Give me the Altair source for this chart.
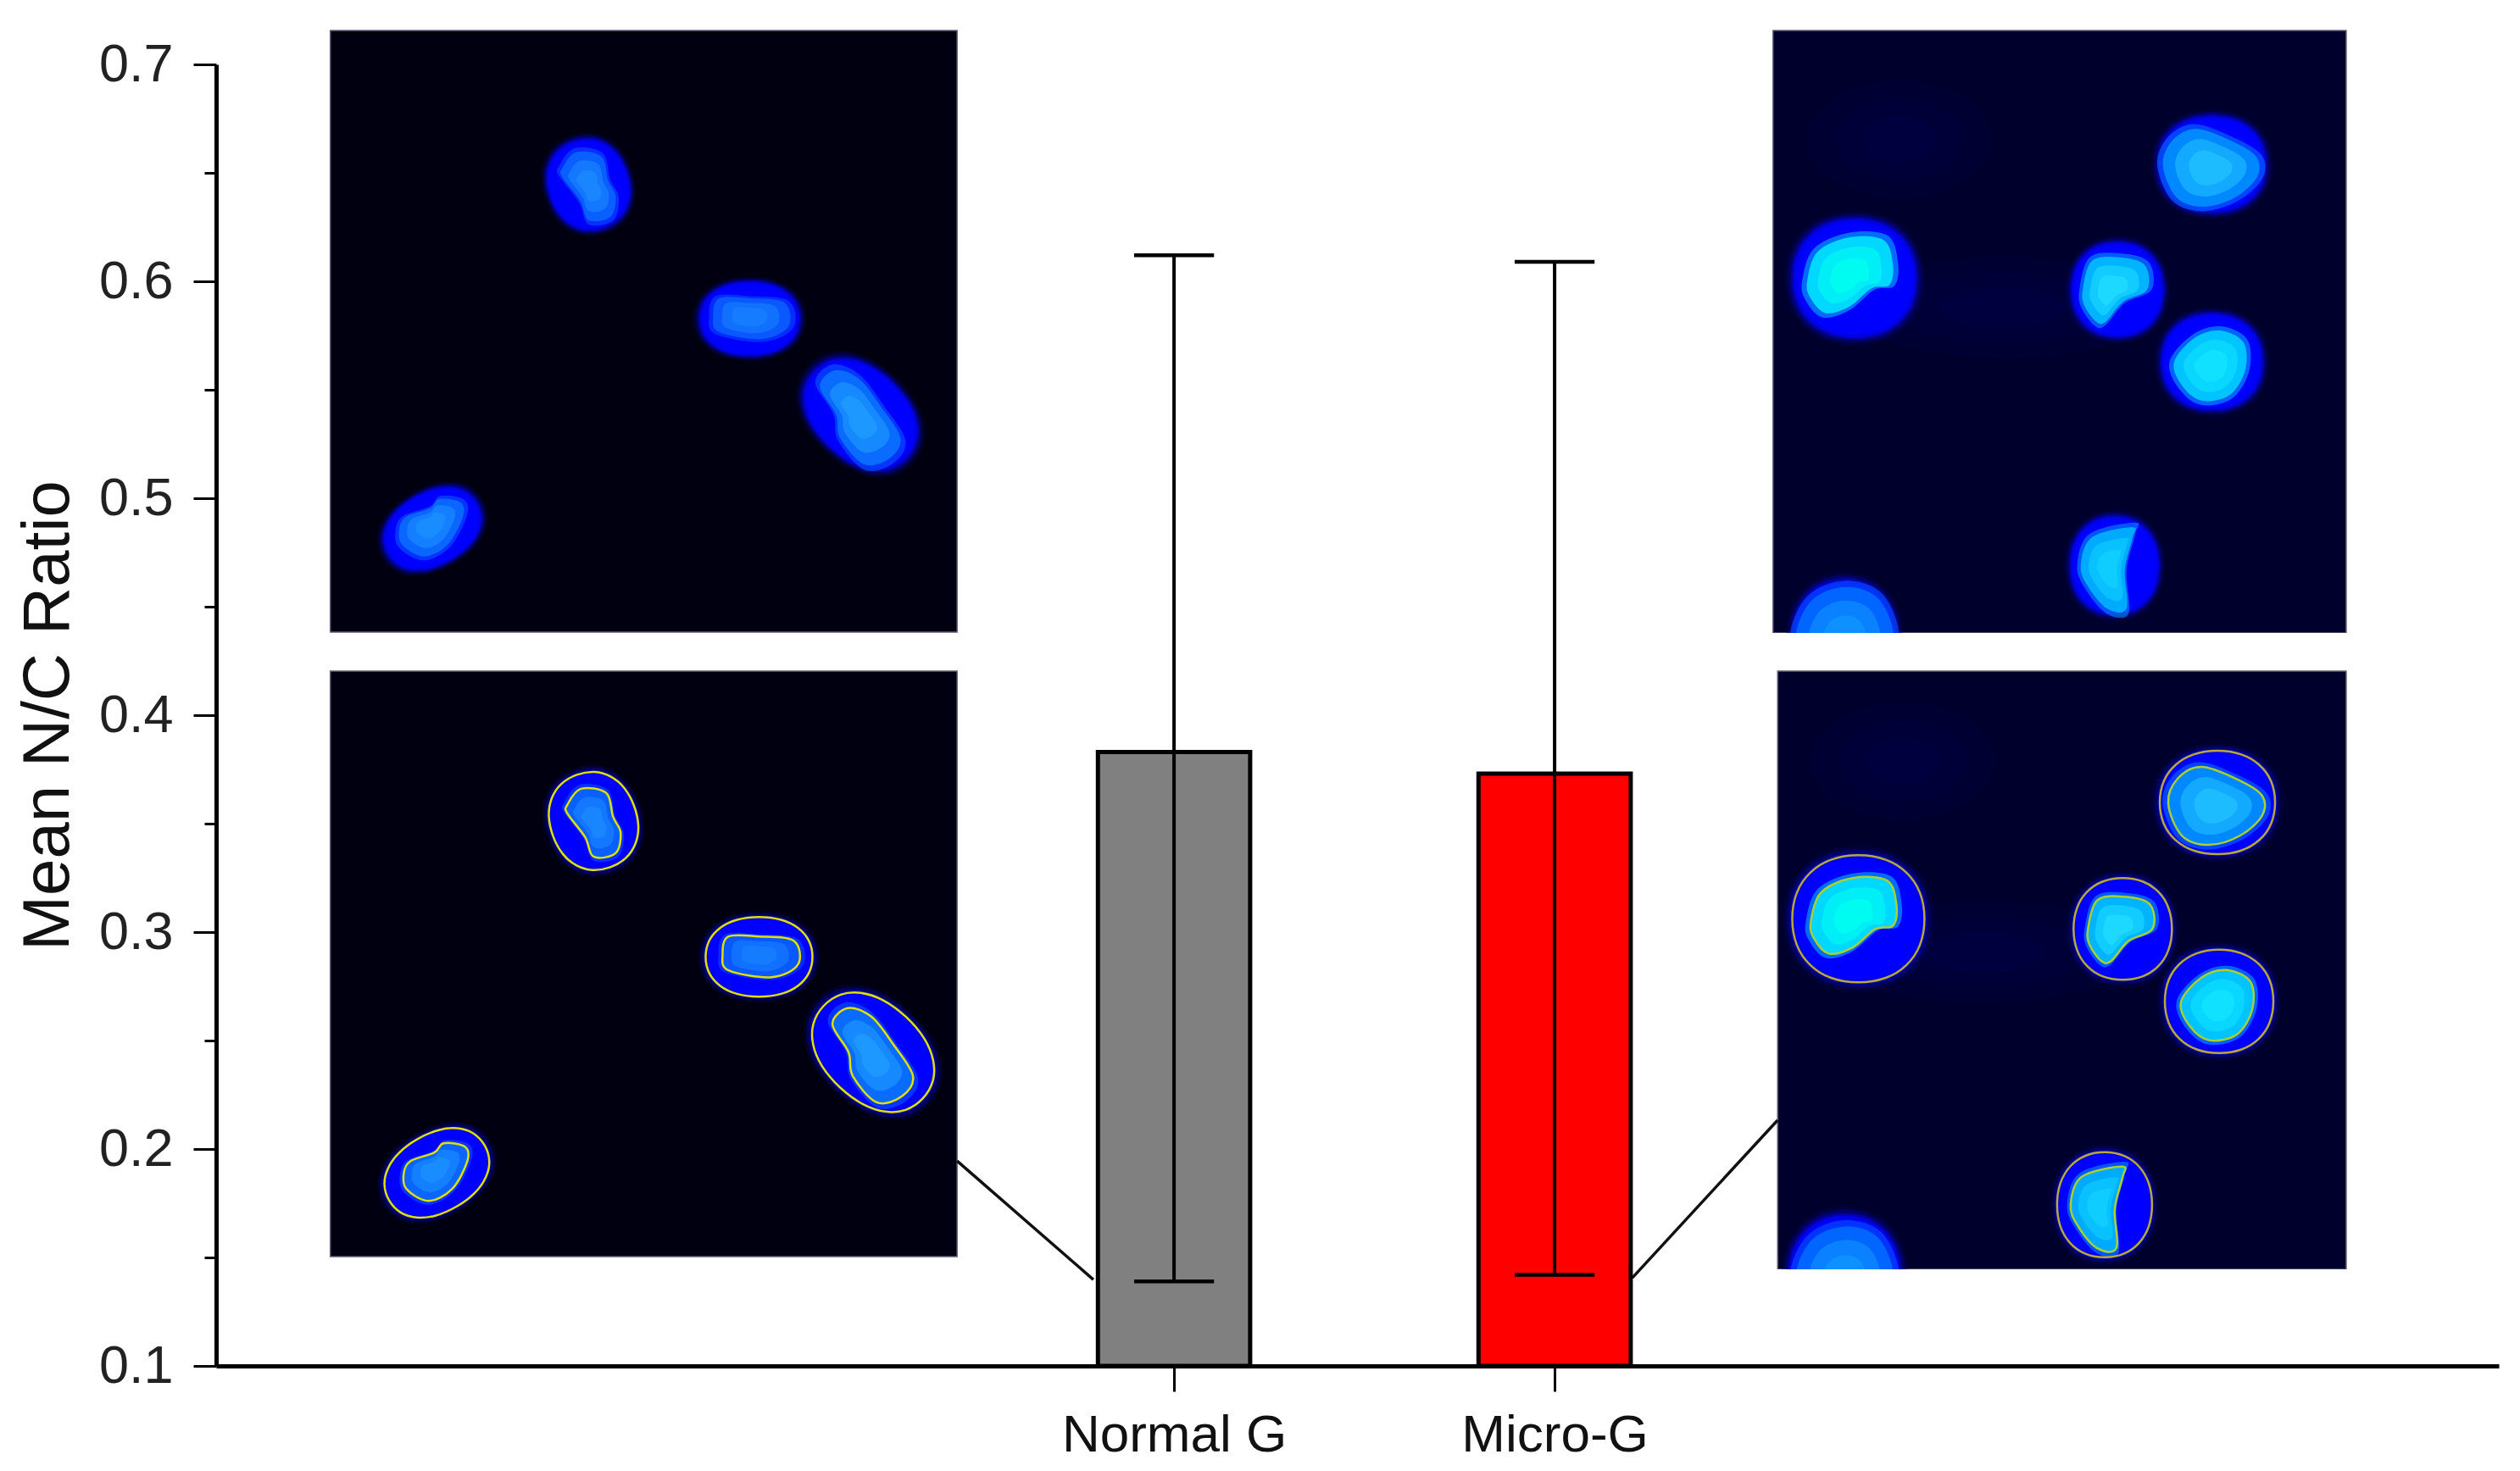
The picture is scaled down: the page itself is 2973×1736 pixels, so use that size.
import pandas as pd
import altair as alt
import math

# bars and error bars
CATEGORIES = ["Normal G", "Micro-G"]
POSITIONS = [1, 2]
MEANS = [0.383, 0.373]
ERR_HIGH = [0.612, 0.609]
ERR_LOW = [0.139, 0.142]
BAR_COLORS = ["#808080", "#ff0000"]
Y_TICKS = [0.1, 0.2, 0.3, 0.4, 0.5, 0.6, 0.7]
Y_MINOR = [0.15, 0.25, 0.35, 0.45, 0.55, 0.65]

# micrograph panels, in axis units
PANEL_NAMES = ["TL", "BL", "TR", "BR"]
PANEL_X0 = [-1.217, -1.217, 2.574, 2.586]
PANEL_X1 = [0.430, 0.430, 4.080, 4.080]
PANEL_Y0 = [0.4383, 0.1504, 0.4379, 0.1445]
PANEL_Y1 = [0.7156, 0.4203, 0.7156, 0.4203]
PANEL_FILL = ["#000010", "#000010", "#00002c", "#00002c"]

# cell centres as fractions of their panel (from top-left)
LEFT_CELLS = ["A", "B", "C", "D"]
TL_U = [0.412, 0.669, 0.846, 0.163]
TL_V = [0.256, 0.479, 0.638, 0.828]
BL_U = [0.420, 0.684, 0.866, 0.170]
BL_V = [0.256, 0.488, 0.651, 0.857]
RIGHT_CELLS = ["E", "F", "G", "H", "I", "J"]
TR_U = [0.1425, 0.601, 0.766, 0.766, 0.596, 0.125]
TR_V = [0.411, 0.430, 0.222, 0.550, 0.888, 1.011]
BR_U = [0.142, 0.607, 0.7735, 0.7765, 0.575, 0.118]
BR_V = [0.414, 0.431, 0.2195, 0.552, 0.892, 1.016]

# cell halo: half length, half width, tilt
OUTER = {
    "A": (58, 51, 70), "B": (63, 47, 0), "C": (80, 57, 43), "D": (65, 46, -30),
    "E": (78, 75, 0), "F": (58, 60, 0), "G": (68, 61, 0), "H": (64, 61, 0),
    "I": (56, 62, 0), "J": (66, 75, 0),
}
# nucleus outlines
NUCLEI = {
    "A": [(-31, -19), (-15, -38), (15, -33), (23, -5), (32, 14), (26, 38), (0, 42), (-10, 19), (-31, -9)],
    "B": [(-43, -3), (-36, -24), (0, -24), (41, -19), (46, 9), (15, 24), (-36, 16)],
    "C": [(-48, -33), (-30, -52), (-2, -42), (24, -9), (47, 28), (34, 52), (4, 59), (-24, 28), (-29, 0)],
    "D": [(-39, 0), (-31, -14), (-3, -24), (8, -35), (33, -31), (36, -14), (18, 19), (-10, 33), (-36, 19)],
    "E": [(-56, 3), (-44, -31), (-7, -48), (34, -45), (45, -16), (41, 8), (20, 12), (-7, 34), (-35, 41), (-53, 22)],
    "F": [(-41, 0), (-30, -34), (2, -38), (32, -29), (35, 0), (7, 14), (-14, 38), (-25, 38), (-39, 19)],
    "G": [(-58, 1), (-47, -28), (-19, -42), (22, -28), (52, -9), (53, 15), (27, 39), (-10, 50), (-42, 39)],
    "H": [(-45, 1), (-21, -28), (9, -37), (37, -23), (39, 10), (21, 39), (-11, 46), (-34, 30)],
    "I": [(-40, 0), (-27, -33), (21, -45), (21, -32), (12, 5), (14, 51), (-9, 51), (-32, 24)],
    "J": [(-58, 0), (-40, -45), (0, -62), (40, -48), (58, 0), (40, 45), (0, 60), (-40, 45)],
}
NUC_MID = {"A": "#0a60ff", "B": "#0a58ff", "C": "#0a6cff", "D": "#0a66ff", "E": "#00d8ff",
           "F": "#00b4ff", "G": "#0088ff", "H": "#00c4ff", "I": "#00aaff", "J": "#0066ff"}
NUC_CORE = {"A": "#1a88ff", "B": "#1880ff", "C": "#1e9cff", "D": "#1a90ff", "E": "#00fff0",
            "F": "#20dcff", "G": "#20c0ff", "H": "#10e4ff", "I": "#10d0ff", "J": "#1094ff"}

# faint haze behind the right hand cells: panel, u, v, half width, half height
HAZE_PANEL = ["TR", "TR", "BR", "BR"]
HAZE_U = [0.22, 0.40, 0.22, 0.36]
HAZE_V = [0.18, 0.46, 0.15, 0.47]
HAZE_A = [110, 190, 110, 190]
HAZE_B = [70, 60, 70, 60]

BODY_LEVELS = [(1.14, "#00006e", 0.3), (1.09, "#000096", 0.45), (1.04, "#0000c0", 0.7), (1.0, "#0000e6", 1), (0.95, "#0000ff", 1)]
OUTER_LEFT = "#e0e000"
INNER_LEFT = "#e0e000"
OUTER_RIGHT = "#b8a838"
INNER_RIGHT = "#a8d030"
TOP_SHRINK = 0.93
X_MIN = -1.517
X_MAX = 4.481


def smooth_path(pts, grow=1.0):
    cx = sum(p[0] for p in pts) / len(pts)
    cy = sum(p[1] for p in pts) / len(pts)
    pts = [(cx + (p[0] - cx) * grow, cy + (p[1] - cy) * grow) for p in pts]
    n = len(pts)
    path = f"M{pts[0][0]:.1f},{pts[0][1]:.1f}"
    for i in range(n):
        p0, p1, p2, p3 = pts[i - 1], pts[i], pts[(i + 1) % n], pts[(i + 2) % n]
        c1 = (p1[0] + (p2[0] - p0[0]) / 6, p1[1] + (p2[1] - p0[1]) / 6)
        c2 = (p2[0] - (p3[0] - p1[0]) / 6, p2[1] - (p3[1] - p1[1]) / 6)
        path += f"C{c1[0]:.1f},{c1[1]:.1f},{c2[0]:.1f},{c2[1]:.1f},{p2[0]:.1f},{p2[1]:.1f}"
    return path + "Z"


def outer_points(name, grow=1.0):
    a, b, tilt = OUTER[name]
    t = math.radians(tilt)
    pts = []
    for k in range(16):
        w = 2 * math.pi * k / 16
        cw, sw = math.cos(w), math.sin(w)
        # only a little squarer than an ellipse
        px = a * grow * abs(cw) ** 0.92 * (1 if cw >= 0 else -1)
        py = b * grow * abs(sw) ** 0.92 * (1 if sw >= 0 else -1)
        pts.append((px * math.cos(t) - py * math.sin(t), px * math.sin(t) + py * math.cos(t)))
    return pts


def panel_xy(panel, u, v):
    i = PANEL_NAMES.index(panel)
    x = PANEL_X0[i] + u * (PANEL_X1[i] - PANEL_X0[i])
    y = PANEL_Y1[i] - v * (PANEL_Y1[i] - PANEL_Y0[i])
    return x, y


def cell_rows(panel, names, us, vs, shrink=1.0):
    rows = []
    for name, u, v in zip(names, us, vs):
        x, y = panel_xy(panel, u, v)
        for grow, color, op in BODY_LEVELS:
            rows.append(dict(x=x, y=y, path=smooth_path(outer_points(name, grow * shrink)), color=color, op=op))
        nuc = NUCLEI[name]
        rows.append(dict(x=x, y=y, path=smooth_path(nuc, 1.12), color=NUC_MID[name], op=0.5))
        rows.append(dict(x=x, y=y, path=smooth_path(nuc, 1.0), color=NUC_MID[name], op=1))
        rows.append(dict(x=x, y=y, path=smooth_path(nuc, 0.74), color=NUC_CORE[name], op=0.6))
        rows.append(dict(x=x, y=y, path=smooth_path(nuc, 0.45), color=NUC_CORE[name], op=0.8))
    return rows


def outline_rows(panel, names, us, vs, outer_color, inner_color, skip=()):
    rows = []
    for name, u, v in zip(names, us, vs):
        if name in skip:
            continue
        x, y = panel_xy(panel, u, v)
        rows.append(dict(x=x, y=y, path=smooth_path(outer_points(name)), color=outer_color))
        rows.append(dict(x=x, y=y, path=smooth_path(NUCLEI[name]), color=inner_color))
    return rows


x_scale = alt.Scale(domain=[X_MIN, X_MAX], nice=False, zero=False)
y_scale = alt.Scale(domain=[0.1, 0.7], nice=False, zero=False)
X = alt.X("x:Q", scale=x_scale, axis=None)
Y = alt.Y("y:Q", scale=y_scale, axis=None)


def rects(df, **style):
    return alt.Chart(df).mark_rect(**style).encode(
        x=X, x2="x1:Q", y=Y, y2="y1:Q", color=alt.Color("fill:N", scale=None))


def panel_frame(names):
    idx = [PANEL_NAMES.index(n) for n in names]
    return pd.DataFrame({
        "x": [PANEL_X0[i] for i in idx], "x1": [PANEL_X1[i] for i in idx],
        "y": [PANEL_Y0[i] for i in idx], "y1": [PANEL_Y1[i] for i in idx],
        "fill": [PANEL_FILL[i] for i in idx],
    })


def blobs(rows):
    return alt.Chart(pd.DataFrame(rows)).mark_point(filled=True, size=4, strokeWidth=0).encode(
        x=X, y=Y,
        shape=alt.Shape("path:N", scale=None),
        color=alt.Color("color:N", scale=None),
        opacity=alt.Opacity("op:Q", scale=None),
    )


def rings(rows, width):
    return alt.Chart(pd.DataFrame(rows)).mark_point(filled=False, size=4, strokeWidth=width, opacity=1).encode(
        x=X, y=Y,
        shape=alt.Shape("path:N", scale=None),
        stroke=alt.Stroke("color:N", scale=None),
    )


haze_rows = []
for p, u, v, a, b in zip(HAZE_PANEL, HAZE_U, HAZE_V, HAZE_A, HAZE_B):
    x, y = panel_xy(p, u, v)
    for g in [1.0, 0.7, 0.4]:
        ell = [(a * g * c, b * g * s) for c, s in [(1, 0), (0.7, -0.7), (0, -1), (-0.7, -0.7),
                                                   (-1, 0), (-0.7, 0.7), (0, 1), (0.7, 0.7)]]
        haze_rows.append(dict(x=x, y=y, path=smooth_path(ell), color="#000090", op=0.07, panel=p))
haze = pd.DataFrame(haze_rows)

top_panels = rects(panel_frame(["TL", "TR"]), stroke="#60607a", strokeWidth=1.5)
bottom_panels = rects(panel_frame(["BL", "BR"]), stroke="#60607a", strokeWidth=1.5)
haze_top = blobs(haze[haze.panel == "TR"].to_dict("records"))
haze_bottom = blobs(haze[haze.panel == "BR"].to_dict("records"))

top_cells = blobs(cell_rows("TL", LEFT_CELLS, TL_U, TL_V, TOP_SHRINK) + cell_rows("TR", RIGHT_CELLS, TR_U, TR_V, TOP_SHRINK))
bottom_cells = blobs(cell_rows("BL", LEFT_CELLS, BL_U, BL_V) + cell_rows("BR", RIGHT_CELLS, BR_U, BR_V))

left_rings = rings(outline_rows("BL", LEFT_CELLS, BL_U, BL_V, OUTER_LEFT, INNER_LEFT), 2.5)
right_rings = rings(outline_rows("BR", RIGHT_CELLS, BR_U, BR_V, OUTER_RIGHT, INNER_RIGHT, skip=("J",)), 2.5)

# white strips that trim the cell cut by the lower panel edges
i_tr, i_br = PANEL_NAMES.index("TR"), PANEL_NAMES.index("BR")
gap_mask = rects(pd.DataFrame({
    "x": [PANEL_X0[i_tr] - 0.02], "x1": [PANEL_X1[i_tr] + 0.02],
    "y": [PANEL_Y0[i_tr]], "y1": [PANEL_Y1[i_br]], "fill": ["#ffffff"]}))
low_mask = rects(pd.DataFrame({
    "x": [PANEL_X0[i_br] - 0.02], "x1": [PANEL_X1[i_br] + 0.02],
    "y": [0.103], "y1": [PANEL_Y0[i_br]], "fill": ["#ffffff"]}))

bars_df = pd.DataFrame({
    "cat": CATEGORIES, "pos": POSITIONS, "mean": MEANS, "high": ERR_HIGH, "low": ERR_LOW,
    "fill": BAR_COLORS,
    "left": [p - 0.2 for p in POSITIONS], "right": [p + 0.2 for p in POSITIONS],
    "cap_l": [p - 0.105 for p in POSITIONS], "cap_r": [p + 0.105 for p in POSITIONS],
    "base": [0.1, 0.1],
})
label_expr = f"datum.value == {POSITIONS[0]} ? '{CATEGORIES[0]}' : '{CATEGORIES[1]}'"
FONT = "Liberation Sans"

bars = alt.Chart(bars_df).mark_bar(stroke="#000000", strokeWidth=5).encode(
    x=alt.X("left:Q", scale=x_scale, axis=None),
    x2="right:Q",
    y=alt.Y("mean:Q", scale=y_scale, axis=None),
    y2="base:Q",
    color=alt.Color("fill:N", scale=None),
)
stems = alt.Chart(bars_df).mark_rule(color="#000000", strokeWidth=4).encode(
    x=alt.X("pos:Q", scale=x_scale, axis=None), y=alt.Y("high:Q", scale=y_scale, axis=None), y2="low:Q")
caps_hi = alt.Chart(bars_df).mark_rule(color="#000000", strokeWidth=4.5).encode(
    x=alt.X("cap_l:Q", scale=x_scale, axis=None), x2="cap_r:Q", y=alt.Y("high:Q", scale=y_scale, axis=None))
caps_lo = alt.Chart(bars_df).mark_rule(color="#000000", strokeWidth=4.5).encode(
    x=alt.X("cap_l:Q", scale=x_scale, axis=None), x2="cap_r:Q", y=alt.Y("low:Q", scale=y_scale, axis=None))

# lines from the bottom panels to their bars
links = alt.Chart(pd.DataFrame({
    "x": [0.430, 2.204], "x1": [0.788, 2.586],
    "y": [0.1945, 0.1406], "y1": [0.1398, 0.2133],
})).mark_rule(color="#111111", strokeWidth=3.5).encode(x=X, x2="x1:Q", y=Y, y2="y1:Q")

# axes sit in their own invisible layers, so no other layer interferes with them
main_axes = alt.Chart(bars_df).mark_rule(opacity=0).encode(
    x=alt.X("pos:Q", scale=x_scale, axis=alt.Axis(
        values=POSITIONS, labelExpr=label_expr, title=None, grid=False, tickSize=30, tickWidth=3,
        tickColor="#000000", domainColor="#000000", domainWidth=5, labelFontSize=62, labelFont=FONT,
        labelColor="#111111", labelPadding=21, labelLimit=800, labelOverlap=False, labelFlush=False, zindex=1)),
    y=alt.Y("mean:Q", scale=y_scale, axis=alt.Axis(
        values=Y_TICKS, format=".1f", title="Mean N/C Ratio", grid=False, tickSize=27, tickWidth=3,
        tickColor="#000000", domainColor="#000000", domainWidth=5, labelFontSize=63, labelFont=FONT,
        labelColor="#222222", labelPadding=24, labelOverlap=False, labelFlush=False,
        titleFontSize=78, titleFont=FONT, titleFontWeight="normal", titleColor="#111111",
        titlePadding=20, titleLimit=1200, orient="left", zindex=1)),
)
minor_axis = alt.Chart(pd.DataFrame({"y": Y_MINOR})).mark_rule(opacity=0).encode(
    y=alt.Y("y:Q", scale=y_scale, axis=alt.Axis(
        values=Y_MINOR, labels=False, title=None, grid=False, domain=False, tickSize=14, tickWidth=3,
        tickColor="#000000", orient="left")))

chart = alt.layer(
    main_axes, minor_axis, top_panels, haze_top, top_cells, gap_mask, bottom_panels, haze_bottom, bottom_cells,
    left_rings, right_rings, low_mask, links, bars, stems, caps_hi, caps_lo,
).resolve_axis(x="independent", y="independent").properties(
    width=2693, height=1536,
    padding={"left": 247, "top": 68, "right": 17, "bottom": 112},
    autosize=alt.AutoSizeParams(type="none"),
).configure_view(stroke=None)

chart.save("out.html", embed_options={"renderer": "svg", "actions": False})
